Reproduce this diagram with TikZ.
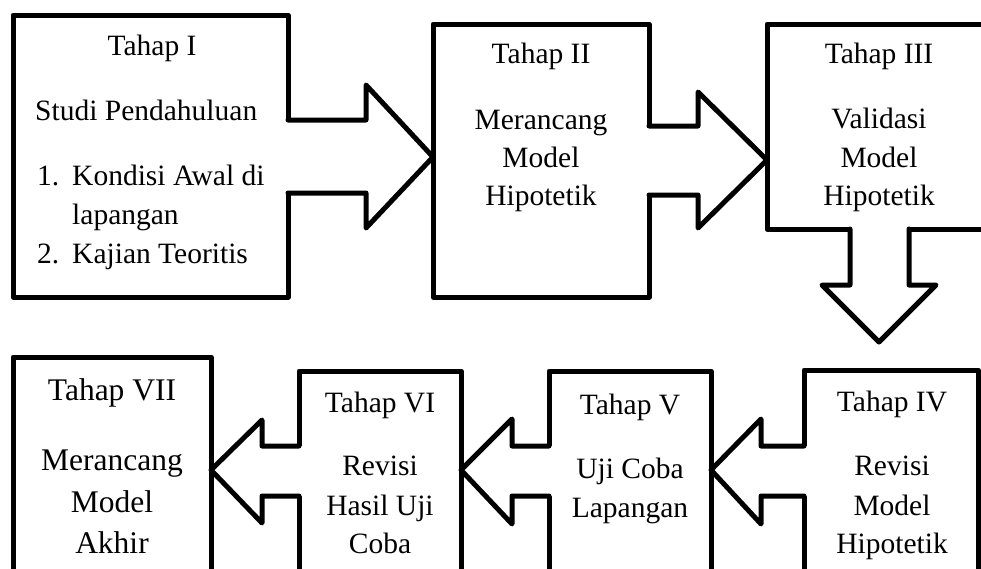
\documentclass[tikz,border=0pt]{standalone}
\usepackage{fontspec}
\setmainfont{Liberation Serif}
\usetikzlibrary{calc}
\begin{document}
\begin{tikzpicture}[x=1pt,y=-1pt,
  box/.style={draw=black, line width=5pt, rectangle, inner sep=0pt, outer sep=0pt, anchor=north west, line join=round},
  arrowfill/.style={fill=white},
  arrowline/.style={draw=black, line width=5pt, line join=round, line cap=round},
  lbl/.style={inner sep=0pt, anchor=base, font=\fontsize{29.5}{35}\selectfont},
  lblw/.style={lbl, anchor=base west},
  lblbig/.style={lbl, font=\fontsize{31.5}{38}\selectfont},
]
\clip (0,0) rectangle (981,568);
\fill[white] (0,0) rectangle (981,568);

% boxes
\node[box, minimum width=275pt, minimum height=282pt] (b1) at (13,15) {};
\node[box, minimum width=216pt, minimum height=273pt] (b2) at (433,24) {};
\node[box, minimum width=224pt, minimum height=205pt] (b3) at (767,24) {};
\node[box, minimum width=174pt, minimum height=240pt] (b4) at (804,370) {};
\node[box, minimum width=162pt, minimum height=240pt] (b5) at (549,371) {};
\node[box, minimum width=162pt, minimum height=240pt] (b6) at (299,371) {};
\node[box, minimum width=198pt, minimum height=250pt] (b7) at (13,357) {};

% arrow I -> II
\fill[arrowfill] ($(b1.east |- 0,120)+(-4,0)$) -- (366,120) -- (366,85) -- (b2.west |- 0,157) -- (366,228) -- (366,193) -- ($(b1.east |- 0,193)+(-4,0)$) -- cycle;
\draw[arrowline] (b1.east |- 0,120) -- (366,120) -- (366,85) -- (b2.west |- 0,157) -- (366,228) -- (366,193) -- (b1.east |- 0,193);

% arrow II -> III
\fill[arrowfill] ($(b2.east |- 0,126)+(-4,0)$) -- (698,126) -- (698,92) -- (b3.west |- 0,160) -- (698,228) -- (698,195) -- ($(b2.east |- 0,195)+(-4,0)$) -- cycle;
\draw[arrowline] (b2.east |- 0,126) -- (698,126) -- (698,92) -- (b3.west |- 0,160) -- (698,228) -- (698,195) -- (b2.east |- 0,195);

% arrow III -> IV (down)
\coordinate (d34) at (879,342);
\fill[arrowfill] ($(850,0 |- b3.south)+(0,-4)$) -- (850,285) -- (822,285) -- (d34) -- (936,285) -- (909,285) -- ($(909,0 |- b3.south)+(0,-4)$) -- cycle;
\draw[arrowline] (850,0 |- b3.south) -- (850,285) -- (822,285) -- (d34) -- (936,285) -- (909,285) -- (909,0 |- b3.south);

% arrow IV -> V
\fill[arrowfill] ($(b4.west |- 0,446)+(4,0)$) -- (761,446) -- (761,419) -- (b5.east |- 0,470) -- (761,524) -- (761,496) -- ($(b4.west |- 0,496)+(4,0)$) -- cycle;
\draw[arrowline] (b4.west |- 0,446) -- (761,446) -- (761,419) -- (b5.east |- 0,470) -- (761,524) -- (761,496) -- (b4.west |- 0,496);

% arrow V -> VI
\fill[arrowfill] ($(b5.west |- 0,446)+(4,0)$) -- (512,446) -- (512,419) -- (b6.east |- 0,470) -- (512,524) -- (512,496) -- ($(b5.west |- 0,496)+(4,0)$) -- cycle;
\draw[arrowline] (b5.west |- 0,446) -- (512,446) -- (512,419) -- (b6.east |- 0,470) -- (512,524) -- (512,496) -- (b5.west |- 0,496);

% arrow VI -> VII
\fill[arrowfill] ($(b6.west |- 0,446)+(4,0)$) -- (262,446) -- (262,420) -- (b7.east |- 0,470) -- (262,523) -- (262,496) -- ($(b6.west |- 0,496)+(4,0)$) -- cycle;
\draw[arrowline] (b6.west |- 0,446) -- (262,446) -- (262,420) -- (b7.east |- 0,470) -- (262,523) -- (262,496) -- (b6.west |- 0,496);

% texts box I
\node[lbl] (t1a) at (152,55) {Tahap I};
\node[lblw] (t1b) at (35,120) {Studi Pendahuluan};
\node[lblw] (t1c) at (37,185) {1.};
\node[lblw] (t1d) at (72,185) {Kondisi Awal di};
\node[lblw] (t1e) at (72,224) {lapangan};
\node[lblw] (t1f) at (37,263) {2.};
\node[lblw] (t1g) at (72,263) {Kajian Teoritis};

% box II
\node[lbl] (t2a) at (541,63) {Tahap II};
\node[lbl] (t2b) at (541,129) {Merancang};
\node[lbl] (t2c) at (541,167) {Model};
\node[lbl] (t2d) at (541,205) {Hipotetik};

% box III
\node[lbl] (t3a) at (879,63) {Tahap III};
\node[lbl] (t3b) at (879,128) {Validasi};
\node[lbl] (t3c) at (879,167) {Model};
\node[lbl] (t3d) at (879,205) {Hipotetik};

% box IV
\node[lbl] (t4a) at (892,411) {Tahap IV};
\node[lbl] (t4b) at (892,475) {Revisi};
\node[lbl] (t4c) at (892,515) {Model};
\node[lbl] (t4d) at (892,553) {Hipotetik};

% box V
\node[lbl] (t5a) at (630,414) {Tahap V};
\node[lbl] (t5b) at (630,478) {Uji Coba};
\node[lbl] (t5c) at (630,517) {Lapangan};

% box VI
\node[lbl] (t6a) at (380,412) {Tahap VI};
\node[lbl] (t6b) at (380,475) {Revisi};
\node[lbl] (t6c) at (380,515) {Hasil Uji};
\node[lbl] (t6d) at (380,553) {Coba};

% box VII
\node[lblbig] (t7a) at (112,400) {Tahap VII};
\node[lblbig] (t7b) at (112,470) {Merancang};
\node[lblbig] (t7c) at (112,512) {Model};
\node[lblbig] (t7d) at (112,553) {Akhir};
\end{tikzpicture}
\end{document}
